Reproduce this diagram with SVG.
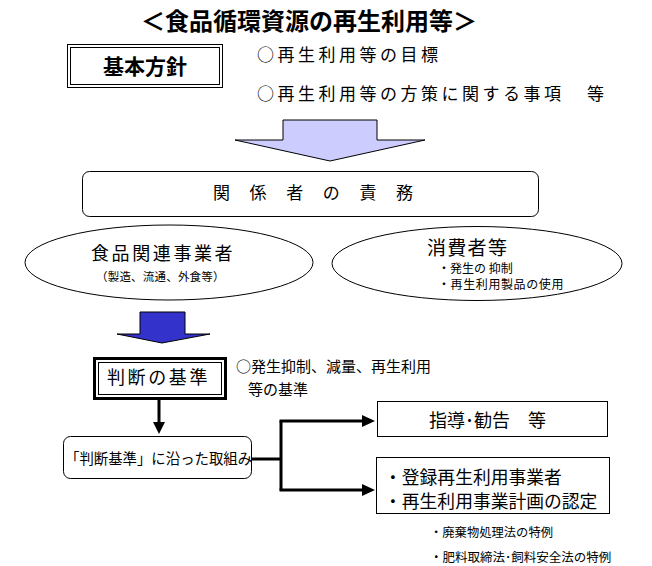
<svg xmlns="http://www.w3.org/2000/svg" width="652" height="566" viewBox="0 0 652 566">
<style>
text{font-family:"Noto Sans CJK JP","Noto Sans CJK SC",sans-serif;fill:#000}
.box{fill:#fff;stroke:#000;stroke-width:1}
.conn{fill:none;stroke:#000;stroke-width:3}
.head{fill:#000;stroke:none}
</style>
<rect width="652" height="566" fill="#fff"/>
<text x="309" y="30" font-size="24" font-weight="bold" text-anchor="middle">＜食品循環資源の再生利用等＞</text>

<g id="kihon">
<rect x="67.5" y="44.5" width="155" height="43" class="box"/>
<rect x="70.5" y="47.5" width="149" height="37" fill="none" stroke="#000"/>
<text x="145" y="74" font-size="21" font-weight="bold" text-anchor="middle">基本方針</text>
</g>
<g id="kihon-notes">
<text x="257" y="61" font-size="17" letter-spacing="3.5">○再生利用等の目標</text>
<text x="257" y="100" font-size="17" letter-spacing="3.5">○再生利用等の方策に関する事項<tspan x="587">等</tspan></text>
</g>

<g id="big-arrow">
<polygon points="283,120 377,120 377,140 425,140 330,161 235,140 283,140" fill="#ccccff" stroke="#000" stroke-width="1"/>
</g>

<g id="sekimu">
<rect x="82.5" y="171.5" width="456" height="45" rx="7" class="box"/>
<text x="213" y="199" font-size="17" letter-spacing="19.6">関係者の責務</text>
</g>

<g id="shokuhin">
<ellipse cx="169" cy="262.5" rx="144" ry="37.5" class="box"/>
<text x="91" y="260" font-size="18" letter-spacing="2.6">食品関連事業者</text>
<text x="96" y="281" font-size="11.5" letter-spacing="0.2">（製造、流通、外食等）</text>
</g>

<g id="shohisha">
<ellipse cx="477" cy="263.5" rx="145" ry="37" class="box"/>
<text x="427" y="255" font-size="19" letter-spacing="1.3">消費者等</text>
<text x="438" y="273" font-size="12">・発生の 抑制</text>
<text x="438" y="289" font-size="12" letter-spacing="0.6">・再生利用製品の使用</text>
</g>

<g id="blue-arrow">
<polygon points="140,312 185,312 185,334 210,334 162,343 117,334 140,334" fill="#3333cc" stroke="#000" stroke-width="1"/>
</g>

<g id="handan">
<rect x="94.5" y="358.5" width="131" height="40" fill="#fff" stroke="#000" stroke-width="3"/>
<rect x="98.5" y="362.5" width="123" height="32" fill="none" stroke="#000" stroke-width="1"/>
<text x="107" y="384" font-size="18" letter-spacing="2.6">判断の基準</text>
</g>
<g id="handan-notes">
<text x="236" y="372" font-size="15">○発生抑制、減量、再生利用</text>
<text x="248" y="395" font-size="15">等の基準</text>
</g>

<g id="torikumi">
<rect x="63.5" y="436.5" width="188" height="42" rx="7" class="box"/>
<text x="65" y="464" font-size="14.4">「判断基準」に沿った取組み</text>
</g>

<g id="shido">
<rect x="377.5" y="401.5" width="230" height="35" class="box"/>
<text x="429" y="427" font-size="18">指導･勧告　等</text>
</g>

<g id="nintei">
<rect x="376.5" y="457.5" width="233" height="56" class="box"/>
<text x="384" y="484" font-size="17.8">・登録再生利用事業者</text>
<text x="384" y="508" font-size="17.8">・再生利用事業計画の認定</text>
</g>

<g id="tokurei">
<text x="430" y="537" font-size="12.3">・廃棄物処理法の特例</text>
<text x="430" y="562" font-size="12.5">・肥料取締法･飼料安全法の特例</text>
</g>

<g id="connectors">
<line x1="159" y1="400" x2="159" y2="423" class="conn"/>
<polygon points="153,422 165,422 159,434" class="head"/>
<polyline points="252,459 281,459" class="conn"/>
<line x1="281" y1="421" x2="281" y2="490" class="conn"/>
<polyline points="279.5,421 364,421" class="conn"/>
<polyline points="279.5,490 364,490" class="conn"/>
<polygon points="362,415 375,421 362,427" class="head"/>
<polygon points="362,484 375,490 362,496" class="head"/>
</g>
</svg>
